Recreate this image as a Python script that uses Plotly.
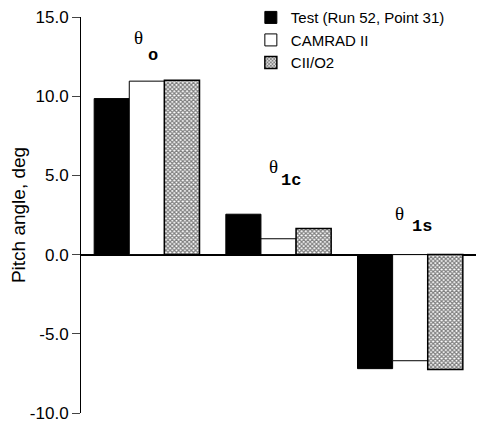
import plotly.graph_objects as go

# Datos
grupos = ['theta_o', 'theta_1c', 'theta_1s']
subindices = ['o', '1c', '1s']
theta_y = [13.7, 5.55, 2.6]
sub_y = [12.55, 4.7, 1.75]

test = [9.85, 2.55, -7.2]
camrad = [10.95, 1.0, -6.7]
cii_o2 = [11.0, 1.65, -7.25]

ticks_y = [-10, -5, 0, 5, 10, 15]
ticks_txt = ['-10.0', '-5.0', '0.0', '5.0', '10.0', '15.0']

fig = go.Figure()

fig.add_trace(go.Bar(
    x=grupos, y=test, name='Test (Run 52, Point 31)',
    marker=dict(color='black', line=dict(color='black', width=1))
))
fig.add_trace(go.Bar(
    x=grupos, y=camrad, name='CAMRAD II',
    marker=dict(color='white', line=dict(color='black', width=1))
))
fig.add_trace(go.Bar(
    x=grupos, y=cii_o2, name='CII/O2',
    marker=dict(color='white', line=dict(color='black', width=1.5),
                pattern=dict(shape='x', size=3, solidity=0.65,
                             fgcolor='black', bgcolor='white'))
))

# etiquetas theta (serif) + subindice en Courier negrita
desp_theta = [-8, -5, -11]
desp_sub = [6, 12, 12]
for i, g in enumerate(grupos):
    fig.add_annotation(x=g, y=theta_y[i], text='θ', showarrow=False,
                       xshift=desp_theta[i],
                       font=dict(family='Liberation Serif', size=19, color='black'))
    fig.add_annotation(x=g, y=sub_y[i], text='<b>' + subindices[i] + '</b>',
                       showarrow=False, xshift=desp_sub[i],
                       font=dict(family='Liberation Mono', size=17, color='black'))

# la pagina tiene 8px de margen en body: se compensa en tamaño y margenes
fig.update_layout(
    width=479, height=415,
    margin=dict(l=73, r=11, t=9, b=10, autoexpand=False),
    paper_bgcolor='white', plot_bgcolor='white',
    barmode='group', bargap=0.2, bargroupgap=0,
    font=dict(family='Liberation Sans, Arial', size=16, color='black'),
    showlegend=True,
    legend=dict(x=0.43, y=1.04, xanchor='left', yanchor='top',
                bgcolor='rgba(0,0,0,0)', font=dict(size=15),
                tracegroupgap=0, itemwidth=30),
    xaxis=dict(showticklabels=False, showline=False, showgrid=False,
               zeroline=False, ticks=''),
    yaxis=dict(range=[-10, 15], tickmode='array', tickvals=ticks_y,
               ticktext=ticks_txt, ticks='outside', ticklen=8,
               ticklabeloverflow='allow',
               showline=True, linecolor='black', linewidth=1,
               showgrid=False, zeroline=True, zerolinecolor='black',
               zerolinewidth=1.5, automargin=False,
               tickfont=dict(size=17),
               title=dict(text='Pitch angle, deg', font=dict(size=19), standoff=4)),
)

fig.write_html("out.html")
